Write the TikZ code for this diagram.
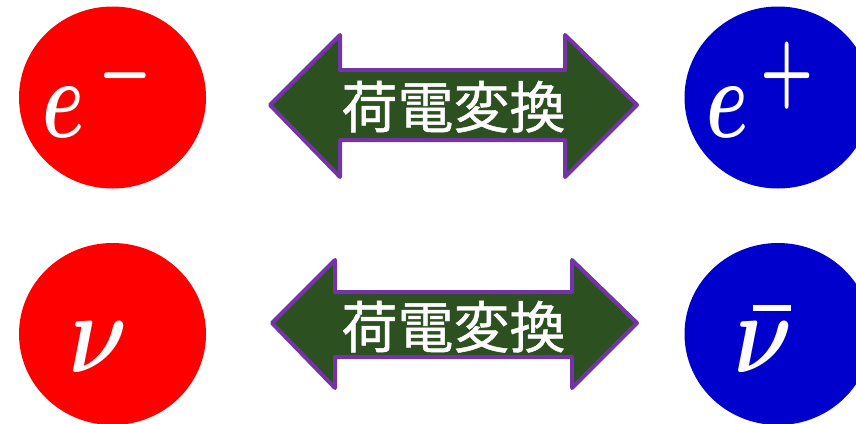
\documentclass[tikz,border=0pt]{standalone}
\usepackage{fontspec}
\newfontfamily\cjk[FakeBold=0.8]{Noto Sans CJK JP}
\usetikzlibrary{shapes.geometric}
\definecolor{pred}{HTML}{FF0000}
\definecolor{pblue}{HTML}{0000CC}
\definecolor{agreen}{HTML}{2D5020}
\definecolor{apurple}{HTML}{7434A8}
\tikzset{
  ball/.style={ellipse, minimum width=187pt, minimum height=182pt, inner sep=0pt},
  arrowshape/.style={fill=agreen, draw=apurple, line width=4pt, line join=round},
  label/.style={text=white, font=\cjk\fontsize{56}{56}\selectfont, inner sep=0pt, anchor=base},
  sym/.style={text=white, inner sep=0pt, anchor=base west, font=\boldmath}
}
\begin{document}
\begin{tikzpicture}[x=1pt,y=-1pt]
\useasboundingbox (0,0) rectangle (856,423);
% particles
\node[ball, fill=pred] (em) at (112.5,97.5) {};
\node[ball, fill=pblue] (ep) at (778,97.5) {};
\node[ball, fill=pred] (nu) at (112.5,334) {};
\node[ball, fill=pblue] (nub) at (778,334) {};
% symbols
\node[sym] (tem) at (42,137) {\scalebox{7.6}[11.3]{$e^{\kern1.9pt-}$}};
\node[sym] (tep) at (706,137) {\scalebox{7.6}[11.3]{$e^{\kern1.6pt+}$}};
\node[sym] (tnu) at (69,372) {\scalebox{9}[11.4]{$\nu$}};
\node[sym] (tnub) at (734,372) {\rlap{\kern19pt\rule[61pt]{38pt}{6pt}}\scalebox{9}[11.4]{$\nu$}};
% arrows
\draw[arrowshape] (270,105) -- (340,35) -- (340,70) -- (565,70) -- (565,35) -- (637,105)
  -- (565,177) -- (565,140) -- (340,140) -- (340,177) -- cycle;
\node[label] (l1) at (453.5,128) {荷電変換};
\draw[arrowshape] (272,323) -- (335,260) -- (335,292) -- (572,292) -- (572,260) -- (637,323)
  -- (572,388) -- (572,357) -- (335,357) -- (335,388) -- cycle;
\node[label] (l2) at (453.5,348) {荷電変換};
\end{tikzpicture}
\end{document}
